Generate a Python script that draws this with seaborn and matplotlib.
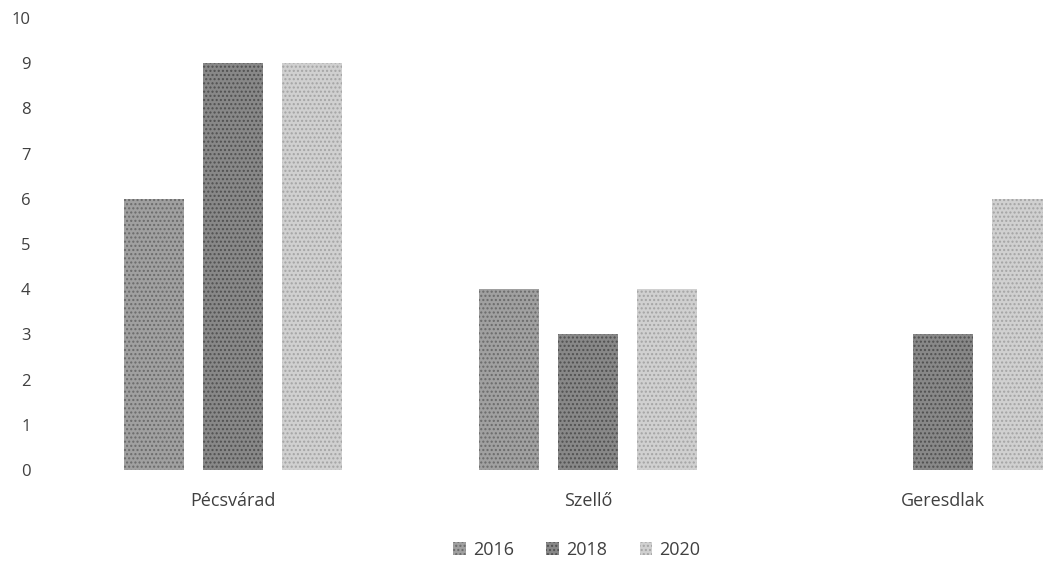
import pandas as pd
import numpy as np
import matplotlib
matplotlib.use("Agg")
import matplotlib.pyplot as plt
import seaborn as sns
from matplotlib.patches import Patch

# data
telepulesek = ["Pécsvárad", "Szellő", "Geresdlak"]
evek = ["2016", "2018", "2020"]
ertek_2016 = [6, 4, np.nan]
ertek_2018 = [9, 3, 3]
ertek_2020 = [9, 4, 6]
y_ticks = list(range(0, 11))

df = pd.DataFrame({
    "Település": telepulesek * 3,
    "Év": [e for e in evek for _ in telepulesek],
    "Érték": ertek_2016 + ertek_2018 + ertek_2020,
})

sns.set_theme(style="white")
plt.rcParams['font.family'] = ['Open Sans', 'DejaVu Sans']

fig = plt.figure(figsize=(10.43, 5.70), dpi=100)
# the scan cuts the right side of the plot area
ax = fig.add_axes([0.0532, 0.1754, 1.021, 0.793])

szinek = ["#a0a0a0", "#888888", "#d0d0d0"]
mintak = ["#6a6a6a", "#505050", "#a4a4a4"]
sns.barplot(data=df, x="Település", y="Érték", hue="Év", palette=szinek,
            width=0.667, gap=0.24, ax=ax, legend=False, saturation=1)

# mottled scan texture
for i, cont in enumerate(ax.containers):
    for bar in cont:
        bar.set_hatch("....")
        bar.set_edgecolor(mintak[i])
        bar.set_linewidth(0)

ax.set_xlim(-0.5, 2.5)
ax.set_ylim(0, 10)
ax.set_yticks(y_ticks)
ax.set_xlabel("")
ax.set_ylabel("")
sns.despine(ax=ax, left=True, bottom=True)
ax.tick_params(axis="y", length=0, pad=18, labelsize=12, labelcolor="#404040")
ax.tick_params(axis="x", length=0, pad=16, labelsize=13, labelcolor="#404040")

handles = [Patch(facecolor=c, hatch="....", edgecolor=e, linewidth=0)
           for c, e in zip(szinek, mintak)]
fig.legend(handles, evek, loc="center", bbox_to_anchor=(0.553, 0.035), ncol=3,
           frameon=False, handlelength=0.7, handleheight=0.7, handletextpad=0.4,
           columnspacing=1.8, fontsize=13, labelcolor="#404040")

fig.savefig("out.png", dpi=100)
